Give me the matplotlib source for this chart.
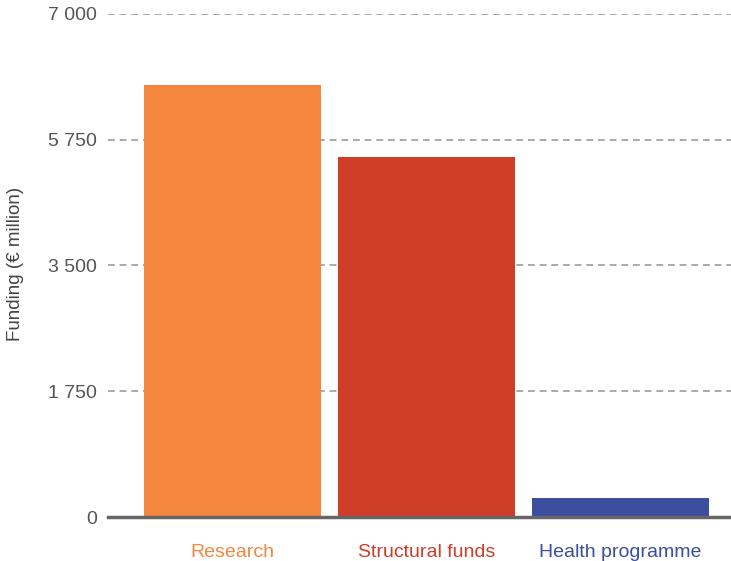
import matplotlib
matplotlib.use("Agg")
import matplotlib.pyplot as plt

categories = ["Research", "Structural funds", "Health programme"]
values = [6010, 5010, 260]
colors = ["#F4863E", "#CE3D28", "#3C4E9E"]
yticks = [0, 1750, 3500, 5250, 7000]
ytick_labels = ["0", "1 750", "3 500", "5 750", "7 000"]

plt.rcParams['font.family'] = ['Liberation Sans', 'DejaVu Sans']

fig = plt.figure(figsize=(7.31, 5.61), dpi=100)
ax = fig.add_axes([108/731, 44/561, 1 - 108/731, 503/561])

x = list(range(len(categories)))
ax.bar(x, values, width=0.912, color=colors, zorder=3)

ax.set_xlim(-0.642, 2.57)
ax.set_ylim(0, 7000)
ax.set_yticks(yticks)
ax.set_yticklabels(ytick_labels, fontsize=14, color="#555555")
for y in yticks[1:]:
    ax.axhline(y, color="#AAAAAA", lw=1.4, ls=(0, (3.5, 2.5)), zorder=1)

ax.set_xticks(x)
ax.set_xticklabels(categories, fontsize=14)
for lbl, c in zip(ax.get_xticklabels(), colors):
    lbl.set_color(c)
ax.tick_params(axis='x', length=0, pad=19.5)
ax.tick_params(axis='y', length=0, pad=8)

for s in ["top", "right", "left"]:
    ax.spines[s].set_visible(False)
ax.spines["bottom"].set_color("#666666")
ax.spines["bottom"].set_linewidth(2.5)
ax.spines["bottom"].set_zorder(4)

fig.text(16/731, 1 - 264/561, "Funding (€ million)", rotation=90, fontsize=13.5,
         color="#444444", ha="center", va="center")

fig.savefig("out.png", dpi=100)
